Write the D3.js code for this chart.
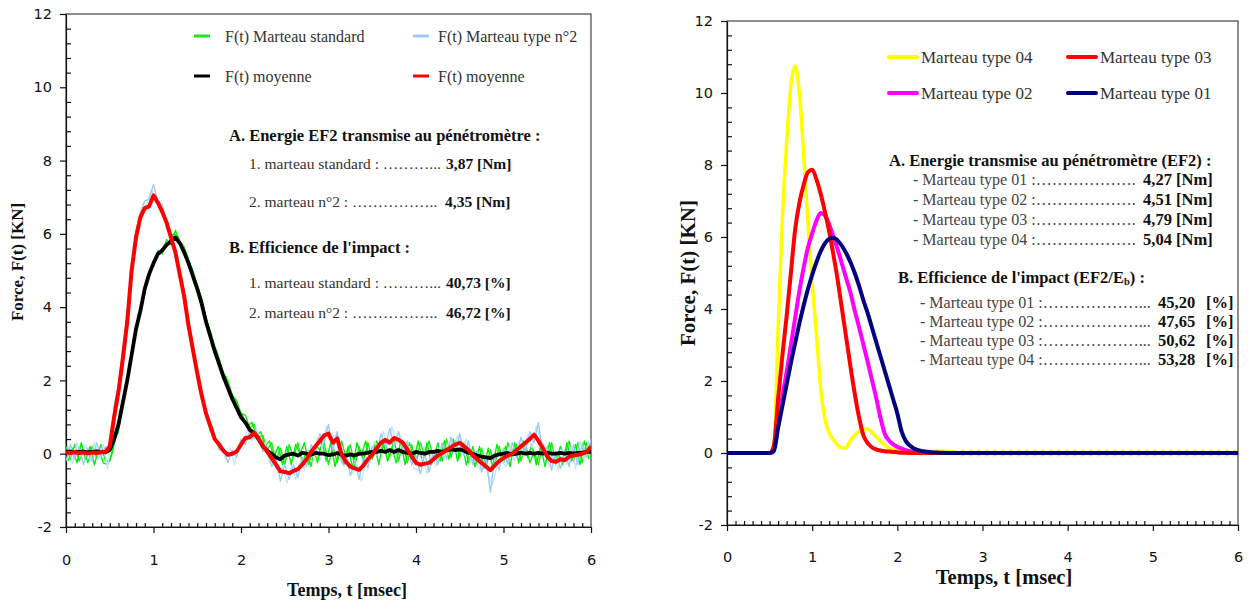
<!DOCTYPE html>
<html><head><meta charset="utf-8">
<script src="https://cdn.jsdelivr.net/npm/d3@7"></script>
<style>body{margin:0;background:#fff}svg{display:block}</style>
</head><body>
<svg id="c" width="1248" height="601"></svg>
<script>
// ---------------- DATA ----------------
const tickX = [0, 1, 2, 3, 4, 5, 6];
const tickY = [-2, 0, 2, 4, 6, 8, 10, 12];

// Left chart: samples every 0.05 ms (t = 0 … 6)
const greenA = [
 0.2,-0.15,0.25,-0.2,0.1,-0.25,0.2,-0.1,0.25,-0.2,
 -0.2,0.3,0.6,1.5,1.9,2.8,3.3,4.0,4.4,5.0,
 5.1,5.55,5.45,5.85,5.7,6.1,5.8,5.65,5.3,5.0,
 4.6,4.25,3.7,3.35,2.9,2.6,2.2,2.0,1.6,1.45,
 1.1,1.05,0.7,0.8,0.45,0.5,0.1,0.3,-0.2,0.15,
 -0.3,0.25,-0.1,0.3,-0.25,0.05,-0.35,0.25,0.1,0.3,
 -0.3,0.2,-0.25,0.35,-0.1,0.25,-0.35,0.2,-0.2,0.3,
 -0.15,0.35,0.05,0.3,-0.1,0.4,-0.2,0.3,-0.25,0.25,
 -0.3,0.3,-0.05,0.35,-0.15,0.3,-0.2,0.4,-0.1,0.35,
 -0.1,0.3,-0.25,0.2,-0.3,0.15,-0.35,0.1,-0.3,0.2,
 -0.25,0.3,-0.05,0.25,-0.2,0.3,-0.25,0.05,-0.3,0.25,
 -0.2,0.3,-0.3,0.2,-0.05,0.35,-0.2,0.3,-0.25,0.3,
 -0.1
];
// second standard-hammer trace, samples at t = 0.025 … 5.975
const greenB = [
 -0.2,0.15,-0.25,0.3,-0.15,0.2,-0.3,0.15,-0.25,-0.3,
 0.0,0.5,1.0,1.6,2.4,3.0,3.7,4.1,4.8,5.0,
 5.4,5.5,5.7,5.75,6.0,5.95,5.6,5.4,5.0,4.8,
 4.4,3.9,3.5,3.0,2.8,2.3,2.1,1.7,1.5,1.2,
 1.0,0.75,0.85,0.5,0.6,0.2,0.35,-0.1,0.2,-0.3,
 0.2,-0.3,0.25,0.0,0.3,-0.3,0.2,-0.25,0.35,-0.2,
 0.3,-0.35,0.1,-0.3,0.2,-0.4,0.3,-0.05,0.35,-0.2,
 0.25,-0.3,0.35,-0.2,0.15,-0.25,0.35,-0.3,0.3,-0.2,
 0.35,-0.25,0.3,-0.3,0.05,-0.2,0.35,-0.15,0.4,-0.2,
 0.3,-0.3,0.1,-0.35,0.2,-0.4,0.15,-0.35,0.25,-0.1,
 0.2,-0.35,0.3,-0.25,0.35,-0.1,0.25,-0.3,0.2,-0.35,
 0.3,-0.25,0.05,-0.3,0.3,-0.2,0.25,-0.3,0.35,-0.15
];
const blueA = [
 -0.2,0.25,-0.15,0.2,-0.3,0.15,-0.2,0.3,-0.1,0.2,
 0.1,1.3,1.9,2.9,3.9,5.2,6.1,6.6,6.9,6.95,
 7.35,6.9,6.8,6.25,6.0,5.4,5.0,4.2,3.6,2.75,
 2.3,1.5,1.2,0.6,0.5,0.1,0.15,-0.25,0.1,-0.1,
 0.4,0.25,0.6,0.4,0.55,0.05,0.2,-0.35,-0.1,-0.75,
 -0.3,-0.7,-0.3,-0.65,-0.1,-0.35,0.25,-0.05,0.55,0.3,
 0.8,0.1,0.6,-0.25,0.0,-0.6,-0.2,-0.7,-0.1,-0.4,
 0.2,-0.05,0.55,0.2,0.7,0.2,0.6,0.05,0.35,-0.3,
 -0.05,-0.55,0.0,-0.5,0.1,-0.3,0.3,-0.15,0.45,0.0,
 0.55,-0.05,0.35,-0.3,0.1,-0.5,-0.1,-1.05,-0.1,-0.45,
 0.15,-0.3,0.3,-0.1,0.45,0.05,0.6,0.3,0.85,-0.05,
 0.2,-0.45,0.05,-0.4,0.1,-0.35,0.25,-0.3,0.3,-0.1,
 0.4
];
// second type n°2 trace, samples at t = 0.025 … 5.975
const blueB = [
 0.2,-0.25,0.3,-0.1,0.25,-0.2,0.3,-0.15,0.25,-0.4,
 0.6,1.4,2.2,3.1,4.4,5.5,6.2,6.6,6.8,7.2,
 7.0,6.7,6.4,6.15,5.6,5.3,4.5,4.0,3.1,2.6,
 1.8,1.4,0.9,0.7,0.25,0.3,-0.15,0.15,-0.3,0.2,
 0.3,0.65,0.35,0.7,0.2,0.3,-0.25,-0.05,-0.55,-0.35,
 -0.8,-0.35,-0.7,-0.2,-0.45,0.1,-0.1,0.45,0.15,0.75,
 0.45,0.5,-0.05,-0.35,-0.2,-0.55,-0.3,-0.75,-0.2,-0.25,
 0.35,0.05,0.6,0.15,0.75,0.25,0.5,0.0,0.2,-0.4,
 -0.45,-0.1,-0.55,0.05,-0.35,0.2,-0.1,0.35,0.05,0.5,
 0.0,0.4,-0.25,0.05,-0.45,-0.2,-0.6,-0.85,-0.35,-0.1,
 -0.35,0.2,-0.2,0.35,-0.05,0.5,0.15,0.75,0.4,0.2,
 -0.35,0.0,-0.45,0.15,-0.3,0.2,-0.4,0.35,-0.2,0.35
];
const meanStandard = [
 0.05,0.06,0.04,0.05,0.06,0.04,0.05,0.06,0.05,0.04,
 0.1,0.4,0.8,1.4,2.0,2.7,3.4,3.9,4.5,4.9,
 5.2,5.45,5.55,5.7,5.8,5.9,5.75,5.5,5.2,4.85,
 4.5,4.1,3.6,3.2,2.8,2.45,2.1,1.8,1.5,1.25,
 1.0,0.85,0.65,0.57,0.4,0.2,0.08,0.0,-0.1,-0.15,
 -0.05,-0.02,0.0,-0.05,0.02,0.0,-0.03,0.02,0.0,0.0,
 -0.04,-0.02,0.02,-0.03,-0.05,-0.02,-0.05,0.0,0.0,0.03,
 0.05,0.05,0.08,0.05,0.1,0.05,0.1,0.05,0.02,0.0,
 0.05,0.02,0.0,0.05,0.05,0.08,0.05,0.1,0.12,0.1,
 0.12,0.08,0.02,0.0,-0.05,-0.08,-0.1,-0.12,-0.05,-0.02,
 0.0,0.02,-0.02,0.0,0.03,0.0,0.02,0.0,0.02,0.0,
 0.02,0.0,0.0,0.02,0.0,0.02,0.0,0.02,0.03,0.05,
 0.05
];
const meanType2 = [
 0.03,0.02,0.04,0.02,0.03,0.01,0.03,0.02,0.04,0.05,
 0.2,1.0,1.7,2.6,3.6,5.0,5.9,6.45,6.7,6.75,
 7.05,6.85,6.6,6.3,5.9,5.5,4.9,4.3,3.5,2.85,
 2.2,1.6,1.1,0.75,0.4,0.25,0.08,-0.03,0.0,0.06,
 0.25,0.43,0.45,0.57,0.42,0.22,0.05,-0.12,-0.3,-0.48,
 -0.5,-0.53,-0.47,-0.42,-0.3,-0.15,0.05,0.2,0.35,0.5,
 0.55,0.3,0.42,-0.02,-0.22,-0.35,-0.4,-0.44,-0.32,-0.15,
 -0.03,0.15,0.3,0.38,0.3,0.43,0.38,0.3,0.12,-0.07,
 -0.25,-0.3,-0.27,-0.25,-0.15,-0.05,0.02,0.1,0.18,0.25,
 0.3,0.2,0.1,-0.05,-0.15,-0.25,-0.35,-0.45,-0.32,-0.2,
 -0.12,-0.05,0.0,0.1,0.2,0.3,0.4,0.52,0.35,0.15,
 -0.07,-0.2,-0.22,-0.15,-0.18,-0.08,-0.05,-0.03,0.0,0.05,
 0.2
];

// Right chart
const timesRight = [0,0.25,0.5,
 0.55,0.6,0.65,0.7,0.75,0.8,0.85,0.9,0.95,1.0,1.05,1.1,1.15,1.2,1.25,1.3,1.35,1.4,1.45,1.5,
 1.55,1.6,1.65,1.7,1.75,1.8,1.85,1.9,1.95,2.0,2.05,2.1,2.15,2.2,
 2.3,2.4,2.5,2.6,2.75,3.0,4.0,5.0,6.0];
const type04 = [0,0,0,
 0.2,3.4,6.5,8.6,10.2,10.75,10.0,8.3,6.4,4.7,3.3,1.8,0.95,0.55,0.36,0.22,0.14,0.15,0.35,0.5,
 0.6,0.67,0.67,0.58,0.45,0.33,0.22,0.14,0.1,0.08,0.07,0.06,0.06,0.06,
 0.05,0.05,0.05,0.05,0.0,0.0,0.0,0.0,0.0];
const type03 = [0,0,0,
 0.2,1.5,2.7,3.8,5.0,6.2,6.95,7.45,7.8,7.87,7.6,7.2,6.7,6.15,5.5,4.8,4.0,3.2,2.4,1.65,
 1.0,0.5,0.28,0.16,0.1,0.07,0.05,0.04,0.03,0.02,0.01,0.01,0,0,
 0,0,0,0,0,0,0,0,0];
const type02 = [0,0,0,
 0.1,0.8,1.55,2.25,3.0,3.75,4.5,5.15,5.7,6.1,6.45,6.67,6.6,6.35,6.0,5.65,5.25,4.85,4.45,3.95,
 3.5,3.03,2.55,2.05,1.55,1.0,0.55,0.35,0.24,0.17,0.12,0.08,0.05,0.03,
 0.01,0,0,0,0,0,0,0,0];
const type01 = [0,0,0,
 0.05,0.7,1.3,1.9,2.5,3.05,3.6,4.1,4.55,4.95,5.3,5.6,5.82,5.95,5.98,5.9,5.75,5.55,5.3,5.0,
 4.65,4.25,3.9,3.5,3.1,2.7,2.3,1.9,1.5,1.1,0.6,0.33,0.2,0.12,
 0.05,0.02,0.01,0,0,0,0,0,0];

const legendLeft = ["F(t) Marteau standard", "F(t) Marteau type n°2", "F(t) moyenne", "F(t) moyenne"];
const legendRight = ["Marteau type 04", "Marteau type 03", "Marteau type 02", "Marteau type 01"];
const energyLeft = ["3,87 [Nm]", "4,35 [Nm]"];
const efficiencyLeft = ["40,73 [%]", "46,72 [%]"];
const energyRight = ["4,27 [Nm]", "4,51 [Nm]", "4,79 [Nm]", "5,04 [Nm]"];
const efficiencyRight = ["45,20", "47,65", "50,62", "53,28"];

// ---------------- DRAW ----------------
const svg = d3.select("#c");
const SERIF = "'Liberation Serif', 'Times New Roman', serif";
const SANS = "'DejaVu Sans', sans-serif";
const defs = svg.append("defs");

function panel(cfg) {
  const x = d3.scaleLinear().domain([0, 6]).range([cfg.x0, cfg.x1]);
  const y = d3.scaleLinear().domain([-2, 12]).range([cfg.yb, cfg.yt]);
  const g = svg.append("g");
  defs.append("clipPath").attr("id", cfg.id).append("rect")
    .attr("x", cfg.x0).attr("y", cfg.yt).attr("width", cfg.x1 - cfg.x0).attr("height", cfg.yb - cfg.yt);
  g.append("rect").attr("x", cfg.x0).attr("y", cfg.yt).attr("width", cfg.x1 - cfg.x0)
    .attr("height", cfg.yb - cfg.yt).attr("fill", "none").attr("stroke", "#444").attr("stroke-width", 1.2);

  const minorY = d3.range(-2, 12.001, 0.4).filter(v => Math.abs(v - Math.round(v / 2) * 2) > 1e-6);
  const minorX = d3.range(0, 6.001, 0.1).filter(v => Math.abs(v - Math.round(v)) > 1e-6);

  const ya = g.append("g").attr("transform", `translate(${cfg.x0},0)`)
    .call(d3.axisLeft(y).tickValues(tickY).tickSize(6).tickSizeOuter(0).tickPadding(cfg.ypad).tickFormat(d => String(d)));
  g.append("g").attr("transform", `translate(${cfg.x0},0)`)
    .call(d3.axisRight(y).tickValues(minorY).tickSize(5).tickSizeOuter(0).tickFormat(""))
    .call(s => s.select(".domain").remove());
  const xa = g.append("g").attr("transform", `translate(0,${cfg.yb})`)
    .call(d3.axisBottom(x).tickValues(tickX).tickSize(6).tickSizeOuter(0).tickPadding(cfg.xpad).tickFormat(d => String(d)));
  g.append("g").attr("transform", `translate(0,${cfg.yb})`)
    .call(d3.axisTop(x).tickValues(minorX).tickSize(4).tickSizeOuter(0).tickFormat(""))
    .call(s => s.select(".domain").remove());
  g.selectAll(".tick line, .domain").attr("stroke", "#111").attr("stroke-width", 1.2);
  [ya, xa].forEach(a => a.selectAll("text").attr("font-family", SANS).attr("font-size", 14.5).attr("fill", "#111"));

  const plot = g.append("g").attr("clip-path", `url(#${cfg.id})`);
  return { x, y, g, plot };
}

// ---------- Left panel ----------
const L = panel({ id: "clipL", x0: 66, x1: 591, yt: 14, yb: 527, ypad: 8, xpad: 22 });
const tA = d3.range(greenA.length).map(i => i * 0.05);
const tB = d3.range(greenB.length).map(i => 0.025 + i * 0.05);
const lineL = d3.line().x(d => L.x(d[0])).y(d => L.y(d[1]));
function drawL(times, vals, color, w) {
  L.plot.append("path").datum(times.map((t, i) => [t, vals[i]]))
    .attr("d", lineL).attr("fill", "none").attr("stroke", color).attr("stroke-width", w)
    .attr("stroke-linejoin", "round");
}
drawL(tA, greenA, "#1ee81e", 1.4);
drawL(tB, greenB, "#00f000", 1.4);
drawL(tB, blueB, "#bfe9f7", 1.3);
drawL(tA, blueA, "#9cc8f5", 1.3);
drawL(tA, meanStandard, "#000000", 3.8);
drawL(tA, meanType2, "#ff0000", 4);

L.g.append("text").attr("x", 347).attr("y", 590).attr("text-anchor", "middle").attr("dominant-baseline", "central")
  .attr("font-family", SERIF).attr("font-weight", "bold").attr("font-size", 18).attr("fill", "#111").text("Temps, t [msec]");
L.g.append("text").attr("transform", "translate(17,262) rotate(-90)").attr("text-anchor", "middle").attr("dominant-baseline", "central")
  .attr("font-family", SERIF).attr("font-weight", "bold").attr("font-size", 17).attr("fill", "#111").text("Force, F(t) [KN]");

// left legend
const legLColors = ["#1ee81e", "#9cc8f5", "#000000", "#ff0000"];
legendLeft.forEach((txt, i) => {
  const cx = i % 2 === 0 ? 194 : 413, cy = i < 2 ? 36 : 76;
  L.g.append("line").attr("x1", cx).attr("x2", cx + 16).attr("y1", cy).attr("y2", cy)
    .attr("stroke", legLColors[i]).attr("stroke-width", 3);
  L.g.append("text").attr("x", cx + 31 - (i % 2) * 6).attr("y", cy).attr("dominant-baseline", "central")
    .attr("font-family", SERIF).attr("font-size", 16).attr("fill", "#333").text(txt);
});

function leaderLine(g, x, y, label, xVal, size, color) {
  const t = g.append("text").attr("x", x).attr("y", y).attr("dominant-baseline", "central")
    .attr("font-family", SERIF).attr("font-size", size).attr("fill", color).text(label);
  let s = label;
  const target = xVal - x - 5;
  while (t.node().getComputedTextLength() + size < target) { s += "…"; t.text(s); }
  while (t.node().getComputedTextLength() + size * 0.25 < target) { s += "."; t.text(s); }
  return t;
}
function bold(g, x, y, txt, size) {
  return g.append("text").attr("x", x).attr("y", y).attr("dominant-baseline", "central")
    .attr("font-family", SERIF).attr("font-weight", "bold").attr("font-size", size).attr("fill", "#111").text(txt);
}

bold(L.g, 229, 135, "A. Energie EF2 transmise au pénétromètre :", 16.5);
leaderLine(L.g, 249, 163, "1. marteau standard : ", 446, 15.5, "#333");
bold(L.g, 446, 163, energyLeft[0], 15.5);
leaderLine(L.g, 249, 201, "2. marteau n°2 : ", 445, 15.5, "#333");
bold(L.g, 445, 201, energyLeft[1], 15.5);
bold(L.g, 229, 247, "B. Efficience de l'impact :", 16.5);
leaderLine(L.g, 249, 282, "1. marteau standard : ", 446, 15.5, "#333");
bold(L.g, 446, 282, efficiencyLeft[0], 15.5);
leaderLine(L.g, 249, 312, "2. marteau n°2 : ", 446, 15.5, "#333");
bold(L.g, 446, 312, efficiencyLeft[1], 15.5);

// ---------- Right panel ----------
const R = panel({ id: "clipR", x0: 727, x1: 1238, yt: 21, yb: 525, ypad: 8, xpad: 21 });
const lineR = d3.line().x(d => R.x(d[0])).y(d => R.y(d[1])).curve(d3.curveMonotoneX);
function drawR(vals, color, w, filterFn, dash) {
  const pts = timesRight.map((t, i) => [t, vals[i]]).filter(filterFn || (() => true));
  const p = R.plot.append("path").datum(pts).attr("d", lineR).attr("fill", "none")
    .attr("stroke", color).attr("stroke-width", w).attr("stroke-linejoin", "round");
  if (dash) p.attr("stroke-dasharray", dash);
}
drawR(type04, "#ffff00", 3.5);
drawR(type04, "#ffff00", 7, d => d[0] >= 2.75, "3,5");
drawR(type02, "#ff00ff", 4);
drawR(type03, "#ff0000", 4);
drawR(type01, "#000080", 4);

R.g.append("text").attr("x", 1004).attr("y", 577).attr("text-anchor", "middle").attr("dominant-baseline", "central")
  .attr("font-family", SERIF).attr("font-weight", "bold").attr("font-size", 20.5).attr("fill", "#111").text("Temps, t [msec]");
R.g.append("text").attr("transform", "translate(688,273) rotate(-90)").attr("text-anchor", "middle").attr("dominant-baseline", "central")
  .attr("font-family", SERIF).attr("font-weight", "bold").attr("font-size", 21).attr("fill", "#111").text("Force, F(t) [KN]");

const legRColors = ["#ffff00", "#ff0000", "#ff00ff", "#000080"];
legendRight.forEach((txt, i) => {
  const cx = i % 2 === 0 ? 889 : 1068, cy = i < 2 ? 57 : 93;
  R.g.append("line").attr("x1", cx).attr("x2", cx + 28).attr("y1", cy).attr("y2", cy)
    .attr("stroke", legRColors[i]).attr("stroke-width", 4).attr("stroke-linecap", "round");
  R.g.append("text").attr("x", cx + 32).attr("y", cy).attr("dominant-baseline", "central")
    .attr("font-family", SERIF).attr("font-size", 17).attr("fill", "#333").text(txt);
});

bold(R.g, 889, 160, "A. Energie transmise au pénétromètre (EF2) :", 16.5);
const rowsA = [179, 199, 219, 239];
rowsA.forEach((yy, i) => {
  leaderLine(R.g, 913, yy, `- Marteau type 0${i + 1} :`, 1143, 16, "#444");
  bold(R.g, 1143, yy, energyRight[i], 16.5);
});
const bt = bold(R.g, 898, 277, "B. Efficience de l'impact (EF2/E", 16.5);
bt.append("tspan").attr("font-size", 10.5).attr("dy", 4).text("b");
bt.append("tspan").attr("dy", -4).text(") :");
const rowsB = [302, 321, 340, 359];
rowsB.forEach((yy, i) => {
  leaderLine(R.g, 920, yy, `- Marteau type 0${i + 1} :`, 1158, 16, "#444");
  bold(R.g, 1158, yy, efficiencyRight[i], 16.5);
  bold(R.g, 1206, yy, "[%]", 16.5);
});
</script>
</body></html>
